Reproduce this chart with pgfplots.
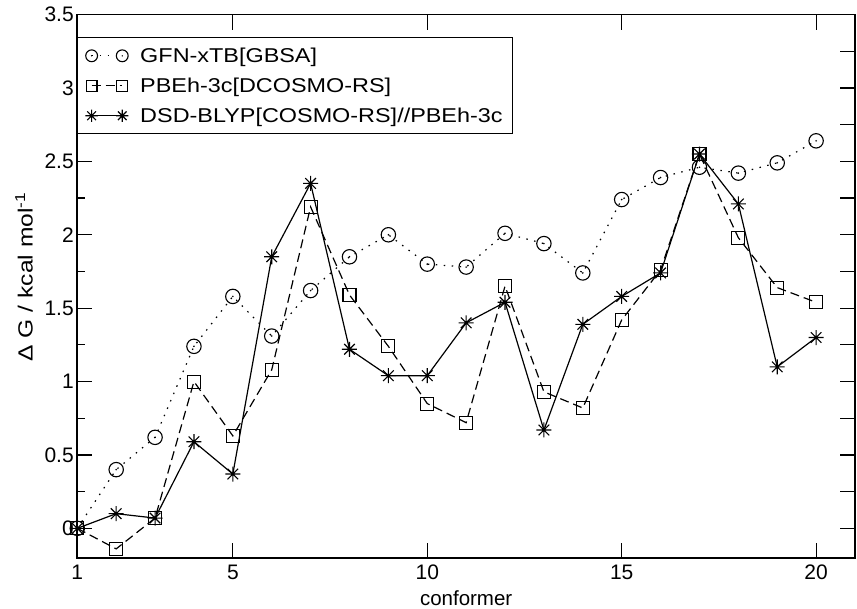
\documentclass[border=0pt]{standalone}
\usepackage{pgfplots}
\usepackage{pgfplotstable}
\pgfplotsset{compat=1.18}
\usepackage{fontspec}
\setmainfont{Liberation Sans}
\newfontfamily\widesans{Liberation Sans}[FakeStretch=1.17]
\newfontfamily\widesanslab{Liberation Sans}[FakeStretch=1.2]

\pgfdeclareplotmark{gstar}{%
  \pgfpathmoveto{\pgfqpoint{-\pgfplotmarksize}{0pt}}\pgfpathlineto{\pgfqpoint{\pgfplotmarksize}{0pt}}%
  \pgfpathmoveto{\pgfqpoint{0pt}{-\pgfplotmarksize}}\pgfpathlineto{\pgfqpoint{0pt}{\pgfplotmarksize}}%
  \pgfpathmoveto{\pgfqpoint{-.707\pgfplotmarksize}{-.707\pgfplotmarksize}}\pgfpathlineto{\pgfqpoint{.707\pgfplotmarksize}{.707\pgfplotmarksize}}%
  \pgfpathmoveto{\pgfqpoint{-.707\pgfplotmarksize}{.707\pgfplotmarksize}}\pgfpathlineto{\pgfqpoint{.707\pgfplotmarksize}{-.707\pgfplotmarksize}}%
  \pgfusepathqstroke}
\pgfdeclareplotmark{codot}{%
  \pgfpathcircle{\pgfpointorigin}{\pgfplotmarksize}\pgfusepathqstroke
  \pgfpathcircle{\pgfpointorigin}{0.9pt}\pgfusepathqfill}

\pgfplotstableread{
x gfn pbe dsd
1 0.00 0.00 0.00
2 0.40 -0.14 0.10
3 0.62 0.07 0.07
4 1.24 1.00 0.59
5 1.58 0.63 0.37
6 1.31 1.08 1.85
7 1.62 2.19 2.35
8 1.85 1.59 1.22
9 2.00 1.24 1.04
10 1.80 0.85 1.04
11 1.78 0.72 1.40
12 2.01 1.65 1.54
13 1.94 0.93 0.67
14 1.74 0.82 1.39
15 2.24 1.42 1.58
16 2.39 1.76 1.74
17 2.46 2.55 2.55
18 2.42 1.98 2.21
19 2.49 1.64 1.10
20 2.64 1.54 1.30
}\data

\begin{document}
\begin{tikzpicture}
\useasboundingbox (-77.3pt,-50.3pt) rectangle (779.7pt,557.7pt);
\begin{axis}[
  at={(0pt,0pt)}, anchor=south west,
  scale only axis, width=777.7pt, height=543.1pt,
  clip=false,
  xmin=1, xmax=21, ymin=-0.2, ymax=3.5,
  xtick={1,5,10,15,20},
  ytick={0,0.5,...,3.5},
  minor ytick={0.25,0.75,...,3.25},
  ytick pos=left,
  major tick length=15pt, minor tick length=8pt,
  tick style={line width=1.2pt, black},
  axis line style={line width=1.6pt},
  /pgf/number format/assume math mode=true,
  tick label style={font=\fontsize{21}{25}\selectfont},
  xticklabel style={yshift=-4pt},
  legend style={at={(0,0.9582)}, anchor=north west, draw=black, line width=1pt,
    font=\widesans\fontsize{20}{24}\selectfont, inner xsep=7.7pt, inner ysep=8pt, row sep=10pt},
  legend cell align=left,
  legend image code/.code={%
    \draw[#1, /tikz/every mark/.append style={scale=0.82}] plot coordinates {(0pt,0pt) (30.6pt,0pt)};
    \path (46pt,0pt);},
]
\addplot[black, line width=1.2pt, dash pattern=on 1.5pt off 6.5pt, mark=codot, mark size=7.2pt, mark options={solid, line width=1.1pt}]
  table[x=x, y=gfn] {\data};
\addlegendentry{GFN-xTB[GBSA]}
\addplot[black, line width=1.2pt, dash pattern=on 9pt off 5pt, mark=square, mark size=6.5pt, mark options={solid, line width=1.1pt}]
  table[x=x, y=pbe] {\data};
\addlegendentry{PBEh-3c[DCOSMO-RS]}
\addplot[black, line width=1.2pt, mark=gstar, mark size=7.5pt, mark options={solid, line width=1.1pt}]
  table[x=x, y=dsd] {\data};
\addlegendentry{DSD-BLYP[COSMO-RS]//PBEh-3c}
\node[anchor=base, font=\fontsize{20.5}{24}\selectfont] at (rel axis cs:0.5,-0.0875) {conformer};
\node[rotate=90, anchor=base, font=\widesanslab\fontsize{20.5}{24}\selectfont] at (rel axis cs:-0.0573,0.517) {Δ G / kcal mol\textsuperscript{-1}};
\end{axis}
\begin{axis}[
  at={(0pt,0pt)}, anchor=south west,
  scale only axis, width=777.7pt, height=543.1pt,
  xmin=1, xmax=21, ymin=-0.2, ymax=3.5,
  axis line style={draw=none},
  xtick=\empty,
  ytick={0,0.25,...,3.5}, yticklabels={},
  ytick pos=right,
  major tick length=15pt,
  tick style={line width=1.2pt, black},
]
\end{axis}
\end{tikzpicture}
\end{document}
